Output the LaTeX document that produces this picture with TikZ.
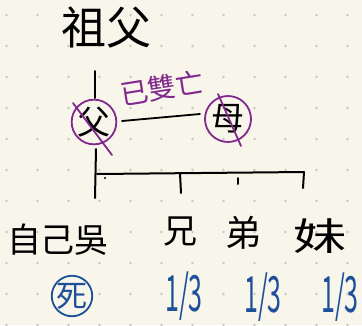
\documentclass[tikz,border=0pt]{standalone}
\usepackage{fontspec}
\newfontfamily\cjk{Noto Sans CJK TC}
\definecolor{bgc}{HTML}{F8F6EA}
\definecolor{dotc}{HTML}{C9C8C0}
\definecolor{pur}{HTML}{82288F}
\definecolor{blu}{HTML}{1D4F9A}
\begin{document}
\begin{tikzpicture}[x=1pt,y=-1pt,
  txt/.style={inner sep=0pt, font=\cjk\fontsize{#1}{#1}\selectfont},
  txt/.default=30,
  blk/.style={line width=2pt, line cap=round, black},
  purl/.style={line width=1.8pt, line cap=round, pur},
  pcirc/.style={circle, draw=pur, line width=1.8pt, inner sep=0pt, minimum size=#1, font=\cjk\fontsize{33}{33}\selectfont},
  third/.style={inner sep=0pt, text=blu, font=\cjk\fontsize{50}{50}\selectfont},
]
\fill[bgc] (0,0) rectangle (362,325);
\useasboundingbox (0,0) rectangle (362,325);
\foreach \i in {0,...,11} \foreach \j in {0,...,10} \fill[dotc] (6.5+31*\i, 15+31*\j) circle (1.4pt);

% top
\node[txt=45] (zufu) at (106,27) {祖父};
\coordinate (v1a) at (95,71);
\coordinate (v1b) at (95,98);
\draw[blk] (v1a) -- (v1b);

% parents
\node[pcirc=40pt] (fu) at (94,122) {父};
\node[pcirc=46pt] (mu) at (228,119) {母};
\coordinate (fx1) at (73,103);
\coordinate (fx2) at (112,155);
\draw[purl] (fx1) -- (fx2);
\coordinate (mx1) at (218,94);
\coordinate (mx2) at (241,146);
\draw[purl] (mx1) -- (mx2);
\coordinate (h1) at (122,121);
\coordinate (h2) at (200,114);
\draw[blk, line width=1.8pt] (h1) -- (h2);
\node[txt=28, text=pur, rotate=9] (dead) at (162,88) {已雙亡};

% children bar
\coordinate (v2a) at (96,149);
\coordinate (v2b) at (95,198);
\draw[blk] (v2a) -- (v2b);
\coordinate (b1) at (97,174);
\coordinate (b2) at (304,172);
\draw[blk] (b1) -- (b2);
\coordinate (t1a) at (180,173);
\coordinate (t1b) at (181,193);
\draw[blk] (t1a) -- (t1b);
\coordinate (t2a) at (238,178);
\coordinate (t2b) at (238,184);
\draw[blk] (t2a) -- (t2b);
\coordinate (t3a) at (304,172);
\coordinate (t3b) at (303,188);
\draw[blk] (t3a) -- (t3b);
\fill (105,178) circle (1.1pt);

% children
\node[txt=34] (self) at (58,240) {自己吳};
\node[txt=34] (xiong) at (180,232) {兄};
\node[txt=36] (di) at (243,233) {弟};
\node[txt=38] (mei) at (320,236) {\scalebox{1.4}[1]{妹}};

% shares
\node[circle, draw=blu, line width=1.8pt, inner sep=0pt, minimum size=37pt, text=blu, font=\cjk\fontsize{31}{31}\selectfont] (si) at (72,296) {死};
\node[third] (s1) at (184,296) {\scalebox{0.5}[1]{1/3}};
\node[third] (s2) at (263,297) {\scalebox{0.5}[1]{1/3}};
\node[third] (s3) at (340,297) {\scalebox{0.5}[1]{1/3}};
\end{tikzpicture}
\end{document}
